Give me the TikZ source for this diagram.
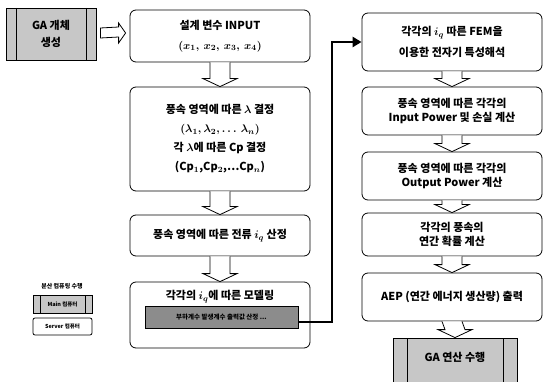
\documentclass[tikz,border=0pt]{standalone}
\usepackage{fontspec}
\setmainfont{Noto Sans CJK KR}
\usetikzlibrary{arrows.meta,positioning,calc}

\tikzset{
  stepbox/.style={draw,thick,rounded corners=6pt,align=center,minimum width=180pt,
    inner sep=2pt,font=\bfseries\boldmath\fontsize{11}{13}\selectfont},
  gabox/.style={draw,thick,fill=black!22,align=center,inner sep=2pt,
    font=\bfseries\fontsize{11}{13}\selectfont,
    path picture={\draw[thick]
      ([xshift=#1]path picture bounding box.north west) -- ([xshift=#1]path picture bounding box.south west)
      ([xshift=-#1]path picture bounding box.north east) -- ([xshift=-#1]path picture bounding box.south east);}},
  gabox/.default=10pt,
  hollow/.style={draw,thick,fill=white,line join=miter}
}
% hollow block arrow from #1 (south) down to #2 (north)
\newcommand\hollowdown[2]{%
  \filldraw[hollow] ($(#1.south)+(-10pt,0)$) -- ($(#2.north)+(-10pt,8pt)$)
    -- ($(#2.north)+(-17pt,8pt)$) -- (#2.north) -- ($(#2.north)+(17pt,8pt)$)
    -- ($(#2.north)+(10pt,8pt)$) -- ($(#1.south)+(10pt,0)$);}

\begin{document}
\begin{tikzpicture}[x=1pt,y=-1pt,>=Latex]
  \useasboundingbox (0,0) rectangle (546,382);
  \clip (0,0) rectangle (546,382);

  % start
  \node[gabox,minimum width=90pt,minimum height=52pt] (init) at (51,34) {GA 개체\\[4pt]생성};

  % left column
  \node[stepbox,minimum height=52pt] (input) at (220,36) {설계 변수 INPUT\\[7pt]$(x_1,\,x_2,\,x_3,\,x_4)$};
  \node[stepbox,minimum height=104pt] (tsr) at (220,139)
    {풍속 영역에 따른 $\lambda$ 결정\\[6pt]$(\lambda_1,\lambda_2,\ldots\,\lambda_n)$\\[6pt]%
     각 $\lambda$에 따른 Cp 결정\\[6pt](Cp$_1$,Cp$_2$,\ldots Cp$_n$)};
  \node[stepbox,minimum height=41pt] (curr) at (220,235.5) {풍속 영역에 따른 전류 $i_q$ 산정};
  \node[stepbox,minimum height=66pt,text depth=40pt] (model) at (220,315) {각각의 $i_q$에 따른 모델링};
  \node[draw,fill=black!45,minimum width=153pt,minimum height=22pt,inner sep=1pt,
    font=\bfseries\fontsize{6.5}{7}\selectfont] (bar) at (221.5,317) {부하계수 발생계수 출력값 산정 ...};

  % right column
  \node[stepbox,minimum height=58pt] (fem) at (452,42) {각각의 $i_q$ 따른 FEM을\\[8pt]이용한 전자기 특성해석};
  \node[stepbox,minimum height=48pt] (pin) at (452,111) {풍속 영역에 따른 각각의\\[1pt]Input Power 및 손실 계산};
  \node[stepbox,minimum height=48pt] (pout) at (452,176) {풍속 영역에 따른 각각의\\[1pt]Output Power 계산};
  \node[stepbox,minimum height=43pt] (prob) at (452,234.5) {각각의 풍속의\\[1pt]연간 확률 계산};
  \node[stepbox,minimum height=48pt] (aep) at (452,297) {AEP (연간 에너지 생산량) 출력};
  \node[gabox=14pt,minimum width=124pt,minimum height=60pt,text depth=22pt] (gaop) at (455,368) {GA 연산 수행};

  % legend
  \node[font=\bfseries\fontsize{6}{7}\selectfont] (legend) at (62,286) {분산 컴퓨팅 수행};
  \node[gabox=7pt,minimum width=59pt,minimum height=18pt,font=\bfseries\fontsize{5.5}{6}\selectfont] (mainpc) at (62.5,304) {Main 컴퓨터};
  \node[draw,thick,rounded corners=2pt,minimum width=59pt,minimum height=17pt,
    font=\bfseries\fontsize{5.5}{6}\selectfont] (server) at (62.5,326.5) {Server 컴퓨터};

  % hollow arrows
  \coordinate (tip) at ($(init.east -| input.west)+(-4pt,1pt)$);
  \filldraw[hollow] ($(init.east)+(4pt,6pt)$) -- ($(tip)+(-7pt,6pt)$) -- ($(tip)+(-7pt,10pt)$) -- (tip)
    -- ($(tip)+(-7pt,-10pt)$) -- ($(tip)+(-7pt,-4pt)$) -- ($(init.east)+(4pt,-4pt)$) -- cycle;
  \hollowdown{input}{tsr}
  \hollowdown{tsr}{curr}
  \hollowdown{curr}{model}
  \hollowdown{fem}{pin}
  \hollowdown{pin}{pout}
  \hollowdown{pout}{prob}
  \hollowdown{prob}{aep}
  \hollowdown{aep}{gaop}

  % link to FEM
  \coordinate (bend) at (332,200);
  \draw[line width=2.5pt,-{Triangle[length=9pt,width=10pt]}] ([yshift=-5pt]bar.east) -| (bend) |- (fem.west);
\end{tikzpicture}
\end{document}
